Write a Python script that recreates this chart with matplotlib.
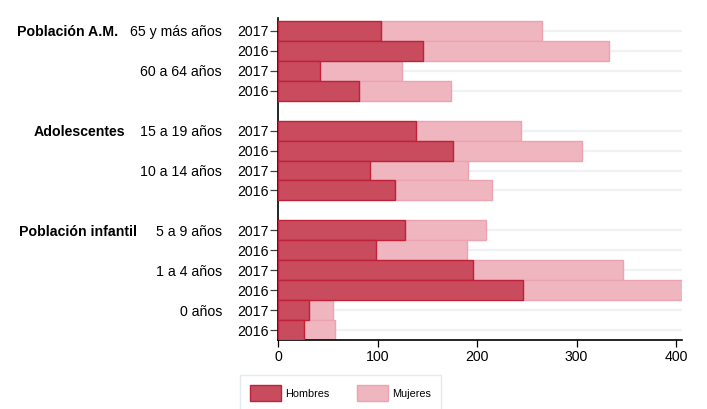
import matplotlib.pyplot as plt
import matplotlib as mpl

plt.rcParams['font.family'] = ['Liberation Sans', 'DejaVu Sans']

# data, top to bottom
grupos = ["Población A.M.", "Adolescentes", "Población infantil"]
edades = ["65 y más años", "60 a 64 años", "15 a 19 años", "10 a 14 años",
          "5 a 9 años", "1 a 4 años", "0 años"]
anios = ["2017", "2016"]

hombres = [104, 146, 42, 81,
           139, 176, 92, 118,
           128, 98, 196, 246, 31, 26]
mujeres = [161, 187, 83, 93,
           105, 130, 99, 97,
           81, 92, 151, 161, 24, 31]

# row positions (blank row between groups)
pos = [0, 1, 2, 3, 5, 6, 7, 8, 10, 11, 12, 13, 14, 15]
edad_pos = [0, 2, 5, 7, 10, 12, 14]
grupo_pos = [0, 5, 10]
grupo_x = [118, 125, 137]  # right edge in pixels

c_h = "#C84B5E"
c_h_edge = "#C02038"
c_m = "#F0B6C0"
c_m_edge = "#EBA3B2"
fs = 10.2

fig = plt.figure(figsize=(7.07, 4.09), dpi=100)
ax = fig.add_axes([278/707, 1-340/409, (682-278)/707, (340-18)/409])

for p in pos:
    ax.axhline(p, color="#EEF2F5", lw=1.6, zorder=0)

ax.barh(pos, hombres, height=1.0, color=c_h, edgecolor=c_h_edge, lw=1, label="Hombres", zorder=3)
ax.barh(pos, mujeres, left=hombres, height=1.0, color=c_m, edgecolor=c_m_edge, lw=1, label="Mujeres", zorder=2)

ax.set_ylim(15.5, -0.65)
ax.set_xlim(0, 406)
ax.set_yticks(pos)
ax.set_yticklabels(anios * 7, fontsize=fs)
ax.set_xticks([0, 100, 200, 300, 400])
ax.tick_params(axis="x", labelsize=fs, length=5, width=0.9, pad=2)
ax.tick_params(axis="y", length=6, width=0.9, pad=1, color="#444444")
for s in ["top", "right"]:
    ax.spines[s].set_visible(False)
ax.spines["left"].set_linewidth(1.2)
ax.spines["bottom"].set_linewidth(1.2)

tr = mpl.transforms.blended_transform_factory(fig.transFigure, ax.transData)
for e, p in zip(edades, edad_pos):
    ax.text(222/707, p, e, transform=tr, ha="right", va="center_baseline", fontsize=fs)
for g, p, x in zip(grupos, grupo_pos, grupo_x):
    ax.text(x/707, p, g, transform=tr, ha="right", va="center_baseline", fontsize=fs, fontweight="bold")

leg = fig.legend(loc="upper left", bbox_to_anchor=(240/707, 1-375/409), ncol=2, fontsize=7.8,
                 frameon=True, fancybox=False, edgecolor="#DDE5EA", handlelength=2.9,
                 handleheight=2.0, handletextpad=0.4, columnspacing=2.5,
                 borderpad=0.9, borderaxespad=0)
leg.get_frame().set_linewidth(1)

fig.savefig("out.png", dpi=100)
